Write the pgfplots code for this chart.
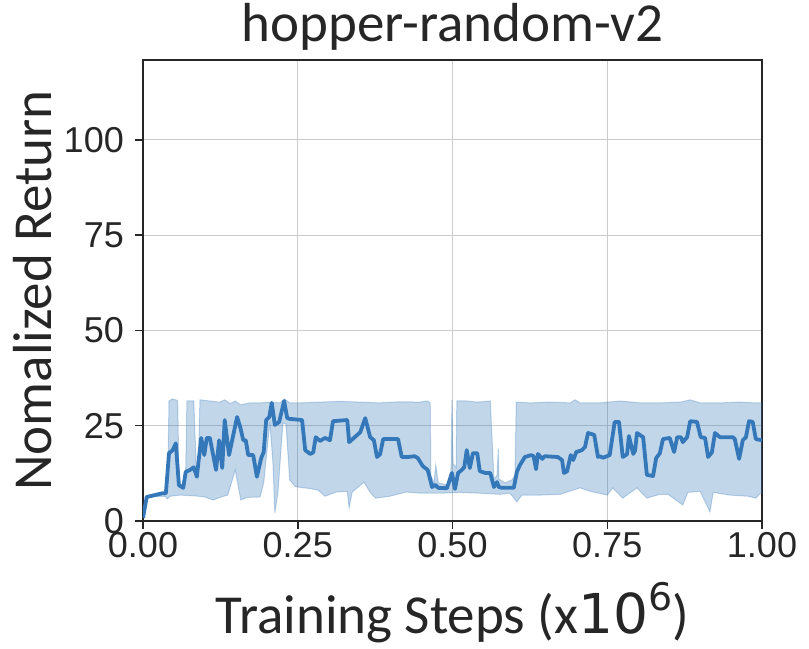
\documentclass[border=0pt]{standalone}
\usepackage{fontspec}
\usepackage{pgfplots}
\usepackage{pgfplotstable}
\pgfplotsset{compat=1.18}
\usepgfplotslibrary{fillbetween}
\setmainfont{Carlito}
\newfontfamily\ticksfont{Liberation Sans}
\newfontfamily\dejavu{DejaVu Sans}
\definecolor{mainblue}{RGB}{52,120,185}
\definecolor{axisgray}{RGB}{38,38,38}
\definecolor{gridgray}{RGB}{204,204,204}

\pgfplotstableread{
x y
0.000 0.8
0.006 6.3
0.032 7.3
0.037 7.3
0.042 17.8
0.048 18.6
0.053 20.4
0.058 9.4
0.065 8.7
0.069 12.9
0.076 13.4
0.082 14.1
0.087 11.6
0.094 21.8
0.099 17.3
0.103 21.8
0.108 21.8
0.118 13.4
0.123 21.2
0.128 13.9
0.132 26.5
0.139 17.3
0.152 27.3
0.157 24.7
0.162 21.2
0.166 21.2
0.170 17.3
0.178 17.3
0.184 11.6
0.191 16.5
0.195 18.1
0.199 26.5
0.204 27.3
0.208 31.0
0.213 25.2
0.220 26.0
0.228 31.5
0.233 27.0
0.237 26.8
0.257 26.5
0.262 18.6
0.270 17.6
0.275 18.0
0.279 22.0
0.286 21.0
0.294 21.8
0.302 21.2
0.307 26.2
0.330 26.5
0.333 20.7
0.342 22.0
0.351 23.3
0.359 27.0
0.367 22.0
0.373 21.2
0.378 16.8
0.383 17.5
0.388 21.5
0.412 21.5
0.418 16.8
0.428 16.8
0.439 17.0
0.444 16.5
0.452 14.4
0.460 13.4
0.467 8.9
0.472 9.5
0.477 8.7
0.491 8.6
0.499 12.6
0.504 8.4
0.509 12.6
0.515 13.4
0.519 14.1
0.523 18.6
0.528 13.9
0.533 17.8
0.540 17.8
0.544 13.1
0.553 12.6
0.561 12.6
0.567 8.9
0.572 10.2
0.575 8.9
0.580 8.7
0.599 8.7
0.604 12.9
0.609 14.7
0.617 16.8
0.627 17.3
0.631 17.0
0.635 13.6
0.638 17.6
0.645 16.3
0.649 17.0
0.670 16.8
0.677 16.0
0.680 12.6
0.685 13.0
0.691 17.3
0.695 16.0
0.700 18.1
0.709 18.6
0.714 19.4
0.719 23.1
0.729 22.6
0.735 16.8
0.738 17.0
0.743 16.6
0.754 17.3
0.762 26.0
0.769 26.0
0.775 16.8
0.782 17.5
0.785 22.3
0.792 17.6
0.795 18.5
0.798 23.1
0.808 22.0
0.814 12.1
0.824 11.8
0.829 16.5
0.835 17.8
0.840 21.5
0.851 21.8
0.858 18.1
0.863 22.0
0.869 22.0
0.872 20.7
0.879 22.0
0.884 26.2
0.895 26.0
0.901 22.0
0.908 21.8
0.913 16.8
0.919 18.0
0.924 23.1
0.932 22.0
0.953 22.0
0.956 21.5
0.963 16.3
0.969 21.2
0.974 22.0
0.979 26.2
0.985 26.0
0.990 21.5
1.000 21.2
}\meantable

\pgfplotstableread{
x y
0.000 0.8
0.006 6.3
0.037 7.6
0.040 10
0.042 31.5
0.047 32
0.053 31.8
0.056 31.5
0.058 12
0.060 9.6
0.066 9.2
0.069 13.5
0.071 31.5
0.082 31.5
0.086 14
0.089 12
0.092 31.8
0.108 31.5
0.124 31.2
0.132 31.8
0.141 30.8
0.149 31.5
0.157 30.5
0.173 31.0
0.189 31.0
0.205 31.2
0.221 31.0
0.229 32.0
0.237 31.0
0.254 31.0
0.286 31.2
0.318 31.4
0.351 31.2
0.383 31.0
0.415 31.3
0.447 31.2
0.459 31.5
0.464 31.0
0.465 12
0.470 10
0.473 14.7
0.477 10
0.491 9.5
0.496 10
0.498 15
0.499 31.7
0.501 15
0.506 14
0.507 31.5
0.523 31.5
0.540 31.2
0.561 31.5
0.567 11
0.572 12
0.574 19
0.575 11
0.585 10
0.596 10.8
0.601 12
0.603 31.2
0.625 31.0
0.658 31.2
0.690 31.0
0.698 31.8
0.706 31.0
0.738 31.0
0.771 31.5
0.803 31.0
0.835 31.0
0.868 31.2
0.884 31.8
0.900 31.0
0.932 31.0
0.964 31.2
0.989 31.0
1.000 31.0
}\uppertable

\pgfplotstableread{
x y
0.000 0.8
0.006 6.3
0.036 6.5
0.039 5.8
0.044 6.5
0.060 6.8
0.084 6.6
0.100 6.3
0.113 5.5
0.128 6.4
0.137 6.8
0.149 13.4
0.158 5.5
0.168 6.2
0.189 6.3
0.195 10
0.205 26.0
0.210 15
0.213 2.1
0.218 7.5
0.226 25.7
0.231 25.5
0.237 10.8
0.246 9.0
0.270 8.5
0.283 8.1
0.294 6.5
0.312 7.6
0.330 7.8
0.333 3.4
0.338 7.6
0.357 10.2
0.367 7.5
0.376 6.0
0.399 6.5
0.425 7.6
0.447 7.3
0.480 7.3
0.512 7.5
0.544 7.3
0.577 7.0
0.593 7.3
0.604 5.0
0.612 6.8
0.641 6.8
0.674 7.0
0.706 8.7
0.722 7.8
0.750 6.8
0.759 8.7
0.775 6.0
0.798 8.7
0.814 6.0
0.835 7.0
0.848 7.0
0.872 4.2
0.880 7.5
0.900 7.8
0.916 2.4
0.921 7.5
0.948 6.8
0.977 6.5
0.990 6.0
0.997 7.2
1.000 7.3
}\lowertable

\begin{document}
\begin{tikzpicture}
\begin{axis}[
  name=ax,
  scale only axis,
  width=619pt, height=461pt,
  xmin=0, xmax=1, ymin=0, ymax=121,
  xtick={0,0.25,0.5,0.75,1},
  xticklabels={0.00,0.25,0.50,0.75,1.00},
  ytick={0,25,50,75,100},
  tick pos=left, tick align=outside,
  major tick length=8pt,
  tick style={axisgray, line width=1.5pt},
  axis line style={axisgray, line width=2.5pt},
  grid=major,
  major grid style={gridgray, line width=1pt},
  /pgf/number format/assume math mode=true,
  tick label style={font=\fontsize{36}{36}\selectfont\ticksfont, text=axisgray, inner sep=2pt},
  yticklabel style={xshift=-9pt},
  xticklabel style={yshift=-1pt},
  title={hopper-random-v2},
  title style={font=\fontsize{55}{55}\selectfont, text=axisgray,
    at={(axis description cs:0.5,1.058)}, anchor=center},
  xlabel={Training Steps (x{\dejavu 10\raisebox{0.42em}{\fontsize{38}{38}\selectfont 6}})},
  xlabel style={font=\fontsize{55}{55}\selectfont, text=axisgray,
    at={(axis description cs:0.5,-0.198)}, anchor=center},
  ylabel={Nomalized Return},
  ylabel style={font=\fontsize{55}{55}\selectfont, text=axisgray,
    at={(axis description cs:-0.178,0.5)}, anchor=center},
]
\addplot[name path=up, draw=mainblue, draw opacity=0.3, line width=1pt] table[x=x, y=y] {\uppertable};
\addplot[name path=lo, draw=mainblue, draw opacity=0.3, line width=1pt] table[x=x, y=y] {\lowertable};
\addplot[fill=mainblue, fill opacity=0.3, draw=none] fill between[of=up and lo];
\addplot[mainblue, line width=3.8pt, line join=round] table[x=x, y=y] {\meantable};
\end{axis}
\pgfresetboundingbox
\path[use as bounding box] ([shift={(-143pt,-128pt)}]ax.south west) rectangle ([shift={(47pt,60pt)}]ax.north east);
\end{tikzpicture}
\end{document}
